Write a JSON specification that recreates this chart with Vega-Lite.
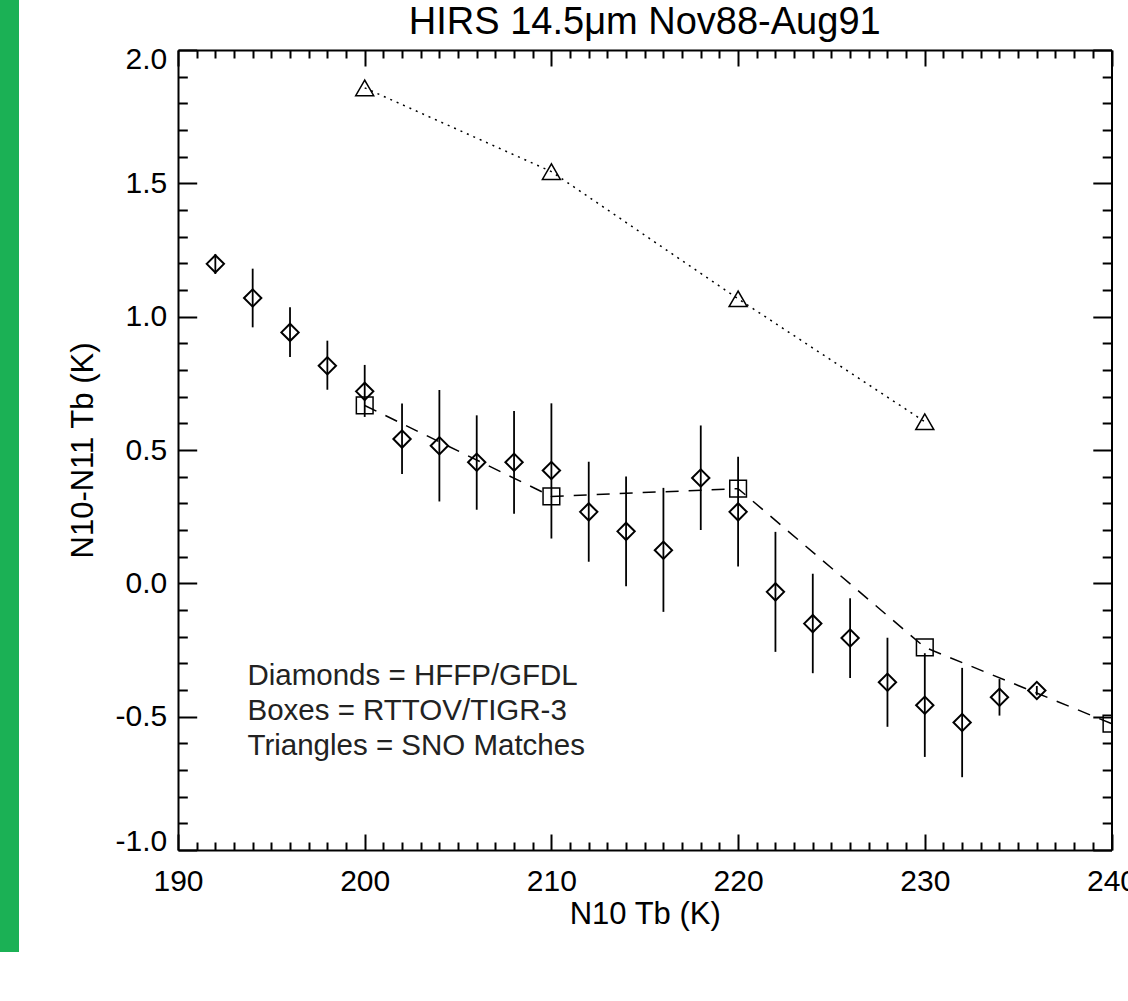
{
  "$schema": "https://vega.github.io/schema/vega-lite/v6.json",
  "width": 933.5,
  "height": 800,
  "autosize": "none",
  "padding": {"left": 178, "top": 50, "right": 17, "bottom": 151},
  "background": "white",
  "config": {"view": {"stroke": null}, "font": "Liberation Sans"},
  "title": {"text": "HIRS 14.5μm Nov88-Aug91", "fontSize": 38, "font": "Liberation Sans", "fontWeight": "normal", "color": "black", "frame": "group", "anchor": "middle", "baseline": "alphabetic", "offset": -72},
  "datasets": {
    "diamonds": [
      {"x": 192, "y": 1.198, "lo": 1.160, "hi": 1.235},
      {"x": 194, "y": 1.070, "lo": 0.960, "hi": 1.180},
      {"x": 196, "y": 0.941, "lo": 0.849, "hi": 1.035},
      {"x": 198, "y": 0.816, "lo": 0.726, "hi": 0.910},
      {"x": 200, "y": 0.720, "lo": 0.624, "hi": 0.819},
      {"x": 202, "y": 0.541, "lo": 0.410, "hi": 0.674},
      {"x": 204, "y": 0.516, "lo": 0.307, "hi": 0.725},
      {"x": 206, "y": 0.454, "lo": 0.276, "hi": 0.630},
      {"x": 208, "y": 0.454, "lo": 0.261, "hi": 0.646},
      {"x": 210, "y": 0.423, "lo": 0.168, "hi": 0.675},
      {"x": 212, "y": 0.268, "lo": 0.081, "hi": 0.456},
      {"x": 214, "y": 0.195, "lo": -0.011, "hi": 0.401},
      {"x": 216, "y": 0.124, "lo": -0.107, "hi": 0.358},
      {"x": 218, "y": 0.395, "lo": 0.200, "hi": 0.592},
      {"x": 220, "y": 0.268, "lo": 0.063, "hi": 0.475},
      {"x": 222, "y": -0.032, "lo": -0.257, "hi": 0.193},
      {"x": 224, "y": -0.151, "lo": -0.337, "hi": 0.036},
      {"x": 226, "y": -0.205, "lo": -0.355, "hi": -0.056},
      {"x": 228, "y": -0.371, "lo": -0.538, "hi": -0.204},
      {"x": 230, "y": -0.457, "lo": -0.651, "hi": -0.262},
      {"x": 232, "y": -0.522, "lo": -0.727, "hi": -0.317},
      {"x": 234, "y": -0.427, "lo": -0.496, "hi": -0.359},
      {"x": 236, "y": -0.402, "lo": -0.420, "hi": -0.385}
    ],
    "boxes": [
      {"x": 200, "y": 0.667},
      {"x": 210, "y": 0.326},
      {"x": 220, "y": 0.355},
      {"x": 230, "y": -0.240},
      {"x": 240, "y": -0.526}
    ],
    "triangles": [
      {"x": 200, "y": 1.858},
      {"x": 210, "y": 1.544},
      {"x": 220, "y": 1.067},
      {"x": 230, "y": 0.606}
    ]
  },
  "layer": [
    {
      "data": {"values": [{}]},
      "mark": {"type": "rect", "color": "#1BB155", "clip": false},
      "encoding": {
        "x": {"datum": 180.466, "type": "quantitative", "scale": {"domain": [190, 240], "nice": false, "zero": false}, "axis": null},
        "x2": {"datum": 181.484},
        "y": {"datum": 2.1875, "type": "quantitative", "scale": {"domain": [-1, 2], "nice": false, "zero": false}, "axis": null},
        "y2": {"datum": -1.3825}
      }
    },
    {
      "data": {"name": "diamonds"},
      "mark": {"type": "rule", "color": "black", "strokeWidth": 1.8},
      "encoding": {
        "x": {"field": "x", "type": "quantitative", "scale": {"domain": [190, 240], "nice": false, "zero": false},
          "axis": {
            "orient": "bottom",
            "values": [190,191,192,193,194,195,196,197,198,199,200,201,202,203,204,205,206,207,208,209,210,211,212,213,214,215,216,217,218,219,220,221,222,223,224,225,226,227,228,229,230,231,232,233,234,235,236,237,238,239,240],
            "tickSize": {"condition": {"test": "datum.value % 10 === 0", "value": -16}, "value": -8},
            "labelExpr": "datum.value % 10 === 0 ? format(datum.value, 'd') : ''",
            "labelFontSize": 30, "labelFont": "Liberation Sans", "labelColor": "black", "labelPadding": 32,
            "labelFlush": false, "labelOverlap": false, "labelBound": false,
            "tickColor": "black", "tickWidth": 2, "domainColor": "black", "domainWidth": 2, "grid": false,
            "title": "N10 Tb (K)", "titleFontSize": 31, "titleFont": "Liberation Sans", "titleFontWeight": "normal", "titleColor": "black", "titlePadding": -5
          }},
        "y": {"field": "lo", "type": "quantitative", "scale": {"domain": [-1, 2], "nice": false, "zero": false},
          "axis": {
            "orient": "left",
            "values": [-1,-0.9,-0.8,-0.7,-0.6,-0.5,-0.4,-0.3,-0.2,-0.1,0,0.1,0.2,0.3,0.4,0.5,0.6,0.7,0.8,0.9,1,1.1,1.2,1.3,1.4,1.5,1.6,1.7,1.8,1.9,2],
            "tickSize": {"condition": {"test": "abs(datum.value*2 - round(datum.value*2)) < 0.001", "value": -18.7}, "value": -9.3},
            "labelExpr": "abs(datum.value*2 - round(datum.value*2)) < 0.001 ? (datum.value < 0 ? '-' : '') + format(abs(datum.value), '.1f') : ''",
            "labelFontSize": 30, "labelFont": "Liberation Sans", "labelColor": "black", "labelPadding": 30,
            "labelFlush": true, "labelFlushOffset": 6, "labelOverlap": false, "labelBound": false,
            "tickColor": "black", "tickWidth": 2, "domainColor": "black", "domainWidth": 2, "grid": false,
            "title": "N10-N11 Tb (K)", "titleFontSize": 31, "titleFont": "Liberation Sans", "titleFontWeight": "normal", "titleColor": "black", "titlePadding": 16
          }},
        "y2": {"field": "hi"}
      }
    },
    {
      "data": {"name": "diamonds"},
      "mark": {"type": "point", "shape": "diamond", "size": 300, "filled": false, "color": "black", "strokeWidth": 2, "opacity": 1},
      "encoding": {
        "x": {"field": "x", "type": "quantitative", "scale": {"domain": [190, 240], "nice": false, "zero": false},
          "axis": {
            "orient": "top",
            "values": [190,191,192,193,194,195,196,197,198,199,200,201,202,203,204,205,206,207,208,209,210,211,212,213,214,215,216,217,218,219,220,221,222,223,224,225,226,227,228,229,230,231,232,233,234,235,236,237,238,239,240],
            "tickSize": {"condition": {"test": "datum.value % 10 === 0", "value": -16}, "value": -8},
            "labels": false, "title": null,
            "tickColor": "black", "tickWidth": 2, "domainColor": "black", "domainWidth": 2, "grid": false
          }},
        "y": {"field": "y", "type": "quantitative", "scale": {"domain": [-1, 2], "nice": false, "zero": false},
          "axis": {
            "orient": "right",
            "values": [-1,-0.9,-0.8,-0.7,-0.6,-0.5,-0.4,-0.3,-0.2,-0.1,0,0.1,0.2,0.3,0.4,0.5,0.6,0.7,0.8,0.9,1,1.1,1.2,1.3,1.4,1.5,1.6,1.7,1.8,1.9,2],
            "tickSize": {"condition": {"test": "abs(datum.value*2 - round(datum.value*2)) < 0.001", "value": -18.7}, "value": -9.3},
            "labels": false, "title": null,
            "tickColor": "black", "tickWidth": 2, "domainColor": "black", "domainWidth": 2, "grid": false
          }}
      }
    },
    {
      "data": {"name": "boxes"},
      "mark": {"type": "line", "color": "black", "strokeWidth": 1.5, "strokeDash": [13, 10], "clip": true},
      "encoding": {
        "x": {"field": "x", "type": "quantitative", "scale": {"domain": [190, 240], "nice": false, "zero": false}, "axis": null},
        "y": {"field": "y", "type": "quantitative", "scale": {"domain": [-1, 2], "nice": false, "zero": false}, "axis": null}
      }
    },
    {
      "data": {"name": "boxes"},
      "mark": {"type": "point", "shape": "square", "size": 279, "filled": false, "color": "black", "strokeWidth": 1.5, "opacity": 1, "clip": true},
      "encoding": {
        "x": {"field": "x", "type": "quantitative", "scale": {"domain": [190, 240], "nice": false, "zero": false}, "axis": null},
        "y": {"field": "y", "type": "quantitative", "scale": {"domain": [-1, 2], "nice": false, "zero": false}, "axis": null}
      }
    },
    {
      "data": {"name": "triangles"},
      "mark": {"type": "line", "color": "black", "strokeWidth": 1.5, "strokeDash": [2, 5]},
      "encoding": {
        "x": {"field": "x", "type": "quantitative", "scale": {"domain": [190, 240], "nice": false, "zero": false}, "axis": null},
        "y": {"field": "y", "type": "quantitative", "scale": {"domain": [-1, 2], "nice": false, "zero": false}, "axis": null}
      }
    },
    {
      "data": {"name": "triangles"},
      "mark": {"type": "point", "shape": "triangle-up", "size": 324, "filled": false, "color": "black", "strokeWidth": 1.5, "opacity": 1},
      "encoding": {
        "x": {"field": "x", "type": "quantitative", "scale": {"domain": [190, 240], "nice": false, "zero": false}, "axis": null},
        "y": {"field": "y", "type": "quantitative", "scale": {"domain": [-1, 2], "nice": false, "zero": false}, "axis": null}
      }
    },
    {
      "data": {"values": [{}]},
      "mark": {"type": "text", "text": ["Diamonds = HFFP/GFDL", "Boxes = RTTOV/TIGR-3", "Triangles = SNO Matches"], "align": "left", "baseline": "alphabetic", "fontSize": 29.5, "lineHeight": 35, "font": "Liberation Sans", "color": "#222222"},
      "encoding": {
        "x": {"datum": 193.72, "type": "quantitative", "scale": {"domain": [190, 240], "nice": false, "zero": false}, "axis": null},
        "y": {"datum": -0.38, "type": "quantitative", "scale": {"domain": [-1, 2], "nice": false, "zero": false}, "axis": null}
      }
    }
  ],
  "resolve": {"axis": {"x": "independent", "y": "independent"}}
}
